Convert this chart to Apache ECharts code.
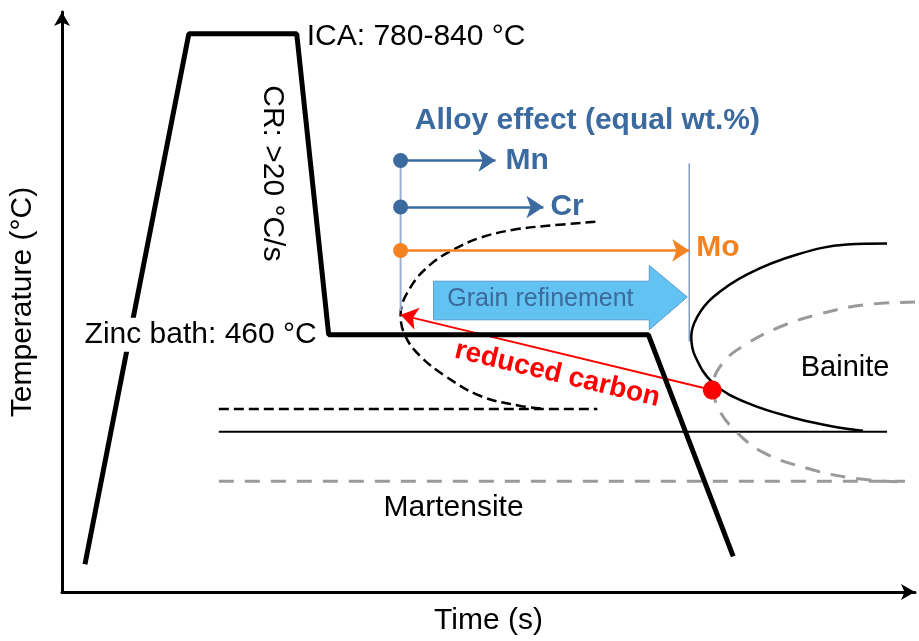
<!DOCTYPE html>
<html>
<head>
<meta charset="utf-8">
<script src="https://cdn.jsdelivr.net/npm/echarts@6/dist/echarts.min.js"></script>
<style>
  html, body { margin: 0; padding: 0; background: #fff; }
  #chart { width: 919px; height: 641px; }
</style>
</head>
<body>
<div id="chart"></div>
<script>
// Schematic coordinates: time and temperature in arbitrary units (origin at the axis corner).

// Heat-treatment path: heating, intercritical anneal, cooling, zinc bath, final quench
const thermalCycle = [[23, 28], [127, 564], [235, 564], [267, 260], [587, 260], [672, 36]];

// Transformation-start curve of the lean alloy (dashed black)
const leanCurve = [[534, 374], [486, 370], [452, 366], [419, 358], [392, 346], [369, 331], [349, 308],
  [339, 280], [344, 258], [359, 238], [384, 218], [419, 198], [459, 188], [484, 185]];
const leanMs = [[157, 185], [536, 185]];

// Bainite nose of the alloyed steel (solid black) and its martensite start
const bainiteCurve = [[826, 352], [786, 351], [736, 341], [686, 321], [652, 298], [636, 278], [630, 258],
  [634, 238], [652, 211], [686, 191], [736, 175], [779, 166], [802, 163]];
const alloyMs = [[157, 162], [826, 162]];

// Reference (reduced carbon) curve, dashed grey, and its martensite start
const refCurve = [[854, 293], [802, 290], [759, 281], [719, 268], [686, 251], [662, 232], [652, 208],
  [656, 188], [672, 165], [702, 141], [746, 125], [792, 115], [844, 111]];
const refMs = [[157, 112], [844, 112]];

// Alloy-effect arrows: element, start, end
const alloyNames = ['Mn', 'Cr', 'Mo'];
const alloyStart = [[339, 436], [339, 389], [339, 345]];
const alloyEnd = [[434, 436], [482, 389], [628, 345]];
const alloyMarkers = [[[339, 436], [339, 284]], [[628, 433], [628, 253]]];

// Reduced-carbon shift: from the bainite nose back to the lean-alloy nose
const carbonShift = [[651, 204], [339, 280]];

// Grain refinement block arrow outline
const grainArrow = [[372, 314], [588, 314], [588, 330], [626, 298], [588, 265], [588, 275], [372, 275]];

const BLUE = '#3A6A9F';
const ORANGE = '#F58220';
const RED = '#FF0000';
const GREY = '#9A9A9A';
const FONT = 'Liberation Sans, Arial, sans-serif';

const labels = [
  { value: [245, 561], text: 'ICA: 780-840 °C', align: 'left', size: 30, color: '#000' },
  { value: [211, 423], text: 'CR: >20 °C/s', align: 'center', size: 30, color: '#000', rotate: -90 },
  { value: [257, 260], text: 'Zinc bath: 460 °C', align: 'right', size: 30, color: '#000', bg: '#fff' },
  { value: [526, 476], text: 'Alloy effect (equal wt.%)', align: 'center', size: 30, color: BLUE, bold: true },
  { value: [444, 436], text: 'Mn', align: 'left', size: 30, color: BLUE, bold: true },
  { value: [489, 389], text: 'Cr', align: 'left', size: 30, color: BLUE, bold: true },
  { value: [635, 348], text: 'Mo', align: 'left', size: 30, color: ORANGE, bold: true },
  { value: [479, 296], text: 'Grain refinement', align: 'center', size: 25, color: '#3C6A9A' },
  { value: [496, 220], text: 'reduced carbon', align: 'center', size: 28, color: RED, bold: true, rotate: -13.5 },
  { value: [392, 85], text: 'Martensite', align: 'center', size: 30, color: '#000' },
  { value: [784, 226], text: 'Bainite', align: 'center', size: 29, color: '#000' }
];

function lineSeries(data, color, width, type, smooth, z) {
  return {
    type: 'line', data: data, smooth: smooth || false, symbol: 'none', silent: true,
    lineStyle: { color: color, width: width, type: type || 'solid', cap: 'butt', opacity: 1 },
    z: z || 2, animation: false
  };
}

const series = [
  lineSeries(leanCurve, '#000', 2.5, [10, 5], 0.4),
  lineSeries(leanMs, '#000', 2.5, [10, 5]),
  lineSeries(alloyMs, '#000', 2),
  lineSeries(refMs, GREY, 3, [15, 11]),
  lineSeries(bainiteCurve, '#000', 2.5, 'solid', 0.4),
  lineSeries(refCurve, GREY, 3, [15, 11], 0.4),
  lineSeries(alloyMarkers[0], '#9AB0CF', 2),
  lineSeries(alloyMarkers[1], '#7F9CC4', 1.5),
  {
    type: 'custom', coordinateSystem: 'cartesian2d', silent: true, animation: false, z: 3,
    data: [0],
    renderItem: function (params, api) {
      return {
        type: 'polygon',
        shape: { points: grainArrow.map(function (p) { return api.coord(p); }) },
        style: { fill: '#62C2F2', stroke: '#5A9BD0', lineWidth: 1 }
      };
    }
  },
  {
    type: 'lines', coordinateSystem: 'cartesian2d', silent: true, animation: false, z: 4,
    symbol: ['circle', 'arrow'], symbolSize: [15, 17],
    data: alloyNames.map(function (n, i) {
      return {
        name: n, coords: [alloyStart[i], alloyEnd[i]],
        lineStyle: { color: n === 'Mo' ? ORANGE : BLUE, width: 2.5, opacity: 1 }
      };
    })
  },
  {
    type: 'lines', coordinateSystem: 'cartesian2d', silent: true, animation: false, z: 5,
    symbol: ['circle', 'arrow'], symbolSize: [19, 17],
    data: [{ coords: carbonShift, lineStyle: { color: RED, width: 2, opacity: 1 } }]
  },
  lineSeries(thermalCycle, '#000', 5, 'solid', false, 6),
  {
    type: 'scatter', symbolSize: 0, silent: true, animation: false, z: 10,
    itemStyle: { opacity: 1 },
    data: labels.map(function (l) {
      return {
        value: l.value,
        label: {
          show: true, position: 'inside', formatter: l.text,
          align: l.align, verticalAlign: 'middle', opacity: 1,
          fontSize: l.size, color: l.color, fontFamily: FONT,
          fontWeight: l.bold ? 'bold' : 'normal',
          rotate: l.rotate || 0,
          backgroundColor: l.bg || 'transparent',
          padding: l.bg ? [2, 2, 2, 4] : 0
        }
      };
    })
  }
];

const chart = echarts.init(document.getElementById('chart'), null, { renderer: 'canvas' });
chart.setOption({
  animation: false,
  backgroundColor: '#fff',
  grid: { left: 61, right: 4, top: 12, bottom: 43, containLabel: false },
  xAxis: {
    type: 'value', min: 0, max: 854,
    name: 'Time (s)', nameLocation: 'middle', nameGap: 14,
    nameTextStyle: { fontSize: 30, color: '#000', fontFamily: FONT, verticalAlign: 'top' },
    axisLine: { show: true, onZero: false, lineStyle: { color: '#000', width: 3 },
      symbol: ['none', 'arrow'], symbolSize: [12, 14] },
    axisTick: { show: false }, axisLabel: { show: false }, splitLine: { show: false }
  },
  yAxis: {
    type: 'value', min: 0, max: 586,
    name: 'Temperature (°C)', nameLocation: 'middle', nameGap: 24, nameRotate: 90,
    nameTextStyle: { fontSize: 30, color: '#000', fontFamily: FONT },
    axisLine: { show: true, onZero: false, lineStyle: { color: '#000', width: 3 },
      symbol: ['none', 'arrow'], symbolSize: [12, 14] },
    axisTick: { show: false }, axisLabel: { show: false }, splitLine: { show: false }
  },
  series: series
});
</script>
</body>
</html>
